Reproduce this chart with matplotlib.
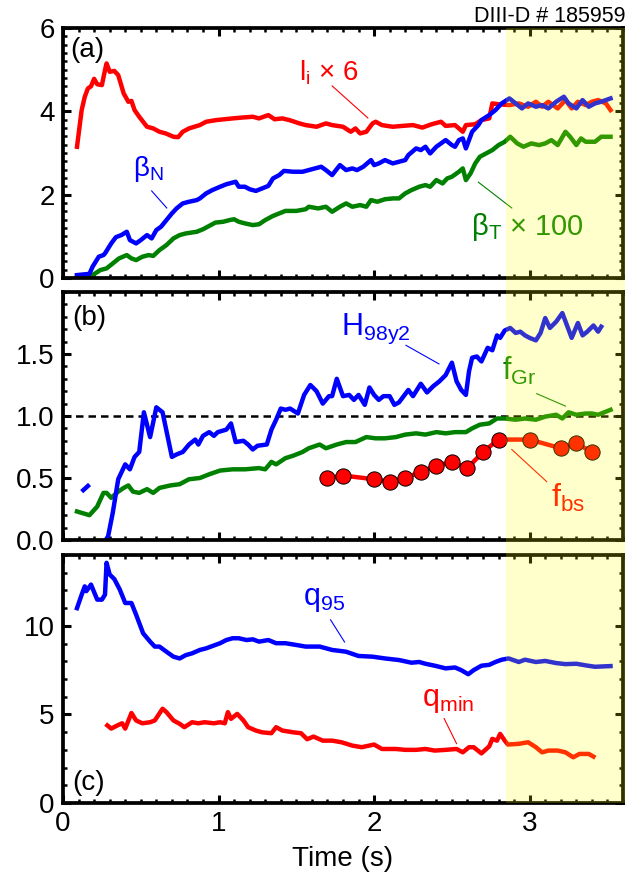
import numpy as np
import matplotlib
matplotlib.use("Agg")
import matplotlib.pyplot as plt
from matplotlib.patches import Rectangle
from matplotlib.ticker import MultipleLocator

plt.rcParams["font.family"] = ["Liberation Sans", "DejaVu Sans"]
plt.rcParams["mathtext.default"] = "regular"

# =====================================================
# DATA (time in s, value)
# =====================================================

LI6 = [(0.09, 3.15), (0.12, 4.03), (0.14, 4.35), (0.16, 4.55), (0.18, 4.60), (0.20, 4.78),
       (0.22, 4.65), (0.25, 4.63), (0.27, 4.99), (0.28, 5.15), (0.30, 4.95), (0.33, 4.97),
       (0.355, 4.87), (0.39, 4.43), (0.42, 4.23), (0.44, 4.25), (0.46, 4.03), (0.49, 3.87),
       (0.54, 3.63), (0.58, 3.59), (0.62, 3.51), (0.66, 3.47), (0.71, 3.39), (0.74, 3.38),
       (0.77, 3.51), (0.81, 3.59), (0.88, 3.67), (0.92, 3.75), (0.985, 3.79), (1.09, 3.83),
       (1.15, 3.85), (1.22, 3.87), (1.26, 3.83), (1.32, 3.91), (1.36, 3.81), (1.41, 3.83),
       (1.455, 3.79), (1.52, 3.71), (1.56, 3.67), (1.63, 3.63), (1.69, 3.71), (1.73, 3.67),
       (1.80, 3.63), (1.85, 3.51), (1.88, 3.59), (1.91, 3.47), (1.95, 3.51), (1.99, 3.71),
       (2.01, 3.75), (2.05, 3.67), (2.12, 3.63), (2.18, 3.65), (2.25, 3.67), (2.31, 3.61),
       (2.37, 3.69), (2.43, 3.75), (2.46, 3.65), (2.52, 3.67), (2.57, 3.51), (2.59, 3.67),
       (2.65, 3.69), (2.69, 3.79), (2.74, 3.83), (2.76, 4.19), (2.80, 4.17), (2.87, 4.15),
       (2.93, 4.19), (2.99, 4.11), (3.04, 4.23), (3.08, 4.11), (3.12, 4.23), (3.18, 4.07),
       (3.23, 4.27), (3.27, 4.07), (3.31, 4.23), (3.36, 4.15), (3.40, 4.23), (3.44, 4.27),
       (3.49, 4.19), (3.52, 4.03)]

BETA_N = [(0.09, 0.07), (0.17, 0.10), (0.19, 0.27), (0.23, 0.51), (0.26, 0.55), (0.27, 0.59),
          (0.31, 0.83), (0.34, 0.98), (0.375, 1.03), (0.41, 1.11), (0.43, 0.91), (0.47, 0.83),
          (0.50, 0.91), (0.54, 1.03), (0.57, 0.95), (0.60, 1.15), (0.63, 1.23), (0.665, 1.39),
          (0.70, 1.55), (0.73, 1.67), (0.77, 1.79), (0.81, 1.83), (0.86, 1.87), (0.88, 1.91),
          (0.92, 2.03), (0.96, 2.11), (1.01, 2.19), (1.05, 2.25), (1.09, 2.29), (1.11, 2.31),
          (1.13, 2.19), (1.17, 2.19), (1.20, 2.13), (1.24, 2.09), (1.28, 2.15), (1.32, 2.21),
          (1.35, 2.39), (1.39, 2.47), (1.42, 2.57), (1.48, 2.55), (1.54, 2.55), (1.58, 2.59),
          (1.62, 2.63), (1.66, 2.67), (1.69, 2.59), (1.73, 2.47), (1.78, 2.71), (1.82, 2.59),
          (1.86, 2.63), (1.89, 2.59), (1.93, 2.67), (1.98, 2.83), (2.00, 2.71), (2.03, 2.75),
          (2.07, 2.83), (2.12, 2.75), (2.16, 2.79), (2.20, 2.83), (2.22, 2.95), (2.27, 3.11),
          (2.30, 3.07), (2.33, 3.15), (2.36, 2.99), (2.40, 3.15), (2.43, 3.23), (2.46, 3.31),
          (2.50, 3.19), (2.52, 3.15), (2.545, 3.31), (2.57, 3.35), (2.59, 3.11), (2.61, 3.31),
          (2.63, 3.51), (2.67, 3.67), (2.69, 3.79), (2.74, 3.91), (2.78, 4.03), (2.82, 4.19),
          (2.87, 4.31), (2.91, 4.19), (2.95, 4.07), (2.99, 4.19), (3.04, 4.11), (3.08, 4.15),
          (3.12, 4.07), (3.17, 4.23), (3.22, 4.35), (3.25, 4.19), (3.30, 4.07), (3.34, 4.27),
          (3.38, 4.11), (3.42, 4.19), (3.46, 4.23), (3.52, 4.31)]

BETA_T100 = [(0.09, 0.03), (0.19, 0.07), (0.24, 0.19), (0.28, 0.23), (0.32, 0.35), (0.36, 0.47),
             (0.41, 0.55), (0.44, 0.47), (0.47, 0.43), (0.51, 0.51), (0.55, 0.55), (0.58, 0.53),
             (0.62, 0.67), (0.665, 0.79), (0.71, 0.95), (0.75, 1.03), (0.79, 1.07), (0.86, 1.11),
             (0.90, 1.17), (0.94, 1.25), (0.98, 1.33), (1.03, 1.35), (1.07, 1.39), (1.10, 1.41),
             (1.13, 1.35), (1.17, 1.31), (1.22, 1.27), (1.26, 1.29), (1.30, 1.39), (1.35, 1.49),
             (1.39, 1.55), (1.43, 1.61), (1.50, 1.61), (1.56, 1.65), (1.58, 1.71), (1.64, 1.67),
             (1.69, 1.71), (1.73, 1.59), (1.78, 1.71), (1.82, 1.79), (1.86, 1.71), (1.91, 1.75),
             (1.95, 1.71), (1.98, 1.87), (2.02, 1.83), (2.07, 1.89), (2.12, 1.91), (2.16, 1.91),
             (2.20, 2.03), (2.24, 2.11), (2.29, 2.19), (2.33, 2.23), (2.36, 2.19), (2.40, 2.35),
             (2.44, 2.27), (2.47, 2.39), (2.50, 2.43), (2.545, 2.55), (2.57, 2.63), (2.59, 2.35),
             (2.62, 2.51), (2.65, 2.75), (2.68, 2.91), (2.72, 2.99), (2.76, 3.07), (2.80, 3.19),
             (2.84, 3.27), (2.875, 3.39), (2.92, 3.23), (2.96, 3.15), (3.01, 3.23), (3.06, 3.19),
             (3.10, 3.23), (3.14, 3.31), (3.18, 3.19), (3.23, 3.51), (3.26, 3.39), (3.30, 3.19),
             (3.33, 3.35), (3.36, 3.27), (3.42, 3.27), (3.46, 3.39), (3.52, 3.39)]

H98_EARLY = [(0.12, 0.39), (0.19, 0.47)]

H98 = [(0.22, -0.05), (0.27, -0.01), (0.29, 0.03), (0.32, 0.22), (0.355, 0.49), (0.40, 0.61),
       (0.43, 0.57), (0.46, 0.67), (0.49, 0.71), (0.52, 1.03), (0.56, 0.83), (0.60, 1.07),
       (0.64, 1.03), (0.70, 0.67), (0.73, 0.69), (0.77, 0.71), (0.81, 0.77), (0.85, 0.81),
       (0.87, 0.77), (0.90, 0.84), (0.94, 0.87), (0.97, 0.84), (0.995, 0.87), (1.05, 0.89),
       (1.08, 0.94), (1.11, 0.79), (1.16, 0.80), (1.19, 0.77), (1.22, 0.73), (1.25, 0.76),
       (1.31, 0.77), (1.34, 0.89), (1.37, 0.97), (1.40, 1.06), (1.43, 1.05), (1.46, 1.06),
       (1.51, 1.02), (1.55, 1.17), (1.59, 1.25), (1.63, 1.20), (1.67, 1.10), (1.71, 1.16),
       (1.73, 1.16), (1.76, 1.30), (1.80, 1.16), (1.84, 1.17), (1.87, 1.13), (1.90, 1.17),
       (1.94, 1.09), (1.97, 1.23), (2.00, 1.17), (2.03, 1.13), (2.06, 1.16), (2.10, 1.16),
       (2.13, 1.09), (2.16, 1.11), (2.22, 1.21), (2.25, 1.16), (2.30, 1.26), (2.34, 1.19),
       (2.38, 1.24), (2.42, 1.28), (2.46, 1.33), (2.50, 1.43), (2.53, 1.28), (2.56, 1.21),
       (2.59, 1.17), (2.61, 1.36), (2.63, 1.47), (2.66, 1.48), (2.69, 1.44), (2.73, 1.55),
       (2.76, 1.53), (2.79, 1.65), (2.81, 1.63), (2.84, 1.69), (2.875, 1.71), (2.91, 1.67),
       (2.94, 1.68), (2.97, 1.65), (3.00, 1.63), (3.04, 1.61), (3.07, 1.67), (3.10, 1.79),
       (3.13, 1.71), (3.17, 1.76), (3.21, 1.83), (3.24, 1.73), (3.27, 1.63), (3.31, 1.75),
       (3.34, 1.65), (3.37, 1.68), (3.41, 1.73), (3.44, 1.68), (3.46, 1.72)]

F_GR = [(0.09, 0.23), (0.17, 0.20), (0.22, 0.27), (0.26, 0.38), (0.28, 0.38), (0.31, 0.34),
        (0.355, 0.39), (0.39, 0.42), (0.42, 0.44), (0.45, 0.39), (0.49, 0.38), (0.54, 0.41),
        (0.58, 0.38), (0.62, 0.42), (0.69, 0.44), (0.75, 0.45), (0.81, 0.49), (0.88, 0.50),
        (0.94, 0.53), (1.01, 0.56), (1.09, 0.57), (1.17, 0.57), (1.26, 0.58), (1.30, 0.57),
        (1.34, 0.63), (1.37, 0.61), (1.43, 0.66), (1.48, 0.68), (1.54, 0.71), (1.58, 0.74),
        (1.65, 0.77), (1.69, 0.74), (1.76, 0.77), (1.82, 0.79), (1.88, 0.79), (1.95, 0.83),
        (2.01, 0.82), (2.07, 0.82), (2.14, 0.83), (2.20, 0.85), (2.27, 0.86), (2.33, 0.85),
        (2.40, 0.87), (2.46, 0.86), (2.52, 0.87), (2.59, 0.87), (2.63, 0.90), (2.68, 0.93),
        (2.74, 0.94), (2.79, 0.98), (2.84, 0.98), (2.91, 0.97), (2.97, 0.98), (3.04, 0.97),
        (3.10, 0.995), (3.17, 1.01), (3.21, 0.98), (3.25, 1.03), (3.30, 1.01), (3.36, 1.02),
        (3.40, 1.02), (3.44, 1.01), (3.52, 1.05)]

FBS_T = [1.70, 1.80, 2.00, 2.10, 2.20, 2.30, 2.40, 2.50, 2.60, 2.70, 2.80, 3.00, 3.20, 3.30, 3.40]
FBS_V = [0.50, 0.52, 0.49, 0.47, 0.50, 0.55, 0.60, 0.63, 0.58, 0.71, 0.81, 0.81, 0.74, 0.78, 0.71]

Q95 = [(0.09, 11.0), (0.12, 11.76), (0.14, 12.23), (0.15, 11.96), (0.18, 12.33), (0.22, 11.48),
       (0.25, 11.48), (0.27, 11.76), (0.28, 13.56), (0.30, 12.9), (0.33, 12.64), (0.365, 12.05),
       (0.40, 11.29), (0.44, 11.29), (0.47, 10.63), (0.515, 9.58), (0.56, 9.11), (0.59, 8.83),
       (0.62, 8.83), (0.665, 8.54), (0.71, 8.26), (0.75, 8.16), (0.79, 8.35), (0.83, 8.45),
       (0.88, 8.64), (0.92, 8.73), (0.96, 8.86), (1.01, 9.02), (1.05, 9.2), (1.09, 9.3),
       (1.13, 9.3), (1.18, 9.2), (1.22, 9.24), (1.26, 9.11), (1.32, 9.2), (1.37, 9.02),
       (1.43, 9.02), (1.50, 8.92), (1.56, 8.83), (1.65, 8.83), (1.73, 8.64), (1.82, 8.54),
       (1.90, 8.3), (1.99, 8.26), (2.07, 8.16), (2.16, 8.07), (2.24, 7.92), (2.29, 7.96),
       (2.33, 7.86), (2.39, 7.75), (2.46, 7.6), (2.52, 7.65), (2.56, 7.5), (2.605, 7.27),
       (2.64, 7.5), (2.69, 7.75), (2.74, 7.8), (2.78, 7.96), (2.82, 8.09), (2.865, 8.16),
       (2.93, 7.96), (2.97, 8.09), (3.04, 7.96), (3.10, 8.02), (3.17, 7.9), (3.23, 7.84),
       (3.30, 7.86), (3.36, 7.77), (3.42, 7.69), (3.52, 7.73)]

QMIN = [(0.285, 4.38), (0.31, 4.2), (0.35, 4.38), (0.38, 4.5), (0.40, 4.2), (0.44, 5.08),
        (0.47, 4.66), (0.51, 4.5), (0.56, 4.56), (0.59, 4.66), (0.64, 5.32), (0.665, 5.13),
        (0.71, 4.66), (0.75, 4.47), (0.78, 4.28), (0.83, 4.56), (0.87, 4.5), (0.91, 4.56),
        (0.97, 4.5), (1.01, 4.56), (1.04, 4.5), (1.06, 5.13), (1.08, 4.75), (1.12, 5.03),
        (1.16, 4.66), (1.19, 4.28), (1.24, 4.09), (1.28, 3.99), (1.34, 3.94), (1.37, 4.28),
        (1.41, 4.09), (1.48, 3.99), (1.53, 3.94), (1.57, 3.6), (1.61, 3.75), (1.67, 3.52),
        (1.73, 3.52), (1.79, 3.43), (1.86, 3.24), (1.92, 3.15), (2.00, 3.3), (2.05, 3.05),
        (2.14, 3.05), (2.20, 3.0), (2.27, 3.0), (2.33, 3.05), (2.39, 2.96), (2.46, 3.0),
        (2.53, 3.05), (2.57, 2.86), (2.61, 3.15), (2.64, 3.15), (2.69, 2.8), (2.74, 3.2),
        (2.76, 3.62), (2.79, 3.52), (2.81, 3.9), (2.84, 3.52), (2.86, 3.3), (2.93, 3.34),
        (2.99, 3.43), (3.04, 3.15), (3.08, 2.86), (3.12, 2.96), (3.18, 2.96), (3.23, 2.86),
        (3.28, 2.58), (3.32, 2.77), (3.38, 2.77), (3.41, 2.62)]

T_HIGHLIGHT = 2.85
XMAX = 3.6

RED = "#ff0000"
BLUE = "#0000ff"
GREEN = "#008000"
LW = 3.2


def xy(pairs):
    a = np.array(pairs)
    return a[:, 0], a[:, 1]


def style_axis(ax, ymax, ymajor, yminor):
    ax.set_xlim(0, XMAX)
    ax.set_ylim(0, ymax)
    ax.xaxis.set_major_locator(MultipleLocator(1))
    ax.xaxis.set_minor_locator(MultipleLocator(0.1))
    ax.yaxis.set_major_locator(MultipleLocator(ymajor))
    ax.yaxis.set_minor_locator(MultipleLocator(yminor))
    ax.tick_params(which="both", direction="in", top=True, right=True, labelsize=20)
    ax.tick_params(which="major", length=6, width=2.2, pad=6)
    ax.tick_params(which="minor", length=3.2, width=1.8)
    for s in ax.spines.values():
        s.set_linewidth(2.7)


def leader(ax, p0, p1, color):
    ax.plot([p0[0], p1[0]], [p0[1], p1[1]], color=color, lw=0.8)


# =====================================================
# FIGURE
# =====================================================

fig = plt.figure(figsize=(6.27, 8.77), dpi=100)
left, width = 63 / 627, 560 / 627
ax_a = fig.add_axes([left, 1 - 278 / 877, width, 250 / 877])
ax_b = fig.add_axes([left, 1 - 540 / 877, width, 248 / 877])
ax_c = fig.add_axes([left, 1 - 803 / 877, width, 248 / 877])

# ---- (a)
t, v = xy(LI6)
ax_a.plot(t, v, color=RED, lw=LW)
t, v = xy(BETA_T100)
ax_a.plot(t, v, color=GREEN, lw=LW)
t, v = xy(BETA_N)
ax_a.plot(t, v, color=BLUE, lw=LW)
style_axis(ax_a, 6, 2, 0.2)
ax_a.set_yticks([0, 2, 4, 6])
ax_a.tick_params(labelbottom=False)
ax_a.text(0.045, 5.47, "(a)", fontsize=20, va="center", ha="left")
ax_a.text(1.52, 4.75, "l$_{i}$ × 6", fontsize=20, color=RED)
leader(ax_a, (1.73, 4.61), (1.96, 3.84), RED)
ax_a.text(0.45, 2.45, "β$_{N}$", fontsize=20, color=BLUE)
leader(ax_a, (0.57, 2.09), (0.667, 1.68), BLUE)
ax_a.text(2.62, 1.03, "β$_{T}$ × 100", fontsize=21, color=GREEN)
leader(ax_a, (2.67, 2.30), (2.885, 1.68), GREEN)

# ---- (b)
ax_b.axhline(1.0, color="black", lw=1.8, ls=(0, (3, 2)))
t, v = xy(F_GR)
ax_b.plot(t, v, color=GREEN, lw=LW)
t, v = xy(H98_EARLY)
ax_b.plot(t, v, color=BLUE, lw=LW, ls=(0, (2.4, 1.2)))
t, v = xy(H98)
ax_b.plot(t, v, color=BLUE, lw=LW)
ax_b.plot(FBS_T, FBS_V, color=RED, lw=LW, marker="o", ms=11,
          markerfacecolor=RED, markeredgecolor="black", markeredgewidth=0.7)
style_axis(ax_b, 2.0, 0.5, 0.1)
ax_b.set_yticks([0, 0.5, 1.0, 1.5])
ax_b.set_yticklabels(["0.0", "0.5", "1.0", "1.5"])
ax_b.tick_params(labelbottom=False)
ax_b.text(0.058, 1.79, "(b)", fontsize=20, va="center", ha="left")
ax_b.text(1.79, 1.65, "H$_{98y2}$", fontsize=22, color=BLUE)
leader(ax_b, (2.205, 1.57), (2.417, 1.42), BLUE)
ax_b.text(2.82, 1.29, "f$_{Gr}$", fontsize=22, color=GREEN)
leader(ax_b, (3.045, 1.18), (3.23, 1.08), GREEN)
ax_b.text(3.14, 0.27, "f$_{bs}$", fontsize=23, color=RED)
leader(ax_b, (2.885, 0.73), (3.11, 0.47), RED)

# ---- (c)
t, v = xy(Q95)
ax_c.plot(t, v, color=BLUE, lw=LW)
t, v = xy(QMIN)
ax_c.plot(t, v, color=RED, lw=LW)
style_axis(ax_c, 14, 5, 1)
ax_c.set_yticks([0, 5, 10])
ax_c.set_xticks([0, 1, 2, 3])
ax_c.set_xlabel("Time (s)", fontsize=20, labelpad=6)
ax_c.text(0.058, 1.14, "(c)", fontsize=20, va="center", ha="left")
ax_c.text(1.54, 11.2, "q$_{95}$", fontsize=22, color=BLUE)
leader(ax_c, (1.72, 10.34), (1.81, 9.09), BLUE)
ax_c.text(2.31, 5.5, "q$_{min}$", fontsize=22, color=RED)
leader(ax_c, (2.45, 4.77), (2.53, 3.35), RED)

fig.text(625 / 627, 1 - 17 / 877, "DIII-D # 185959", fontsize=15.5, ha="right", va="center")

# yellow highlighted window, drawn on top of all panels
x0 = fig.transFigure.inverted().transform(ax_a.transData.transform((T_HIGHLIGHT, 0)))[0]
y_bot = 1 - 803 / 877
y_top = 1 - 28 / 877
fig.add_artist(Rectangle((x0, y_bot), 625 / 627 - x0, y_top - y_bot,
                         transform=fig.transFigure, facecolor="yellow",
                         edgecolor="none", alpha=0.2, zorder=10))

fig.savefig("out.png", dpi=100)
